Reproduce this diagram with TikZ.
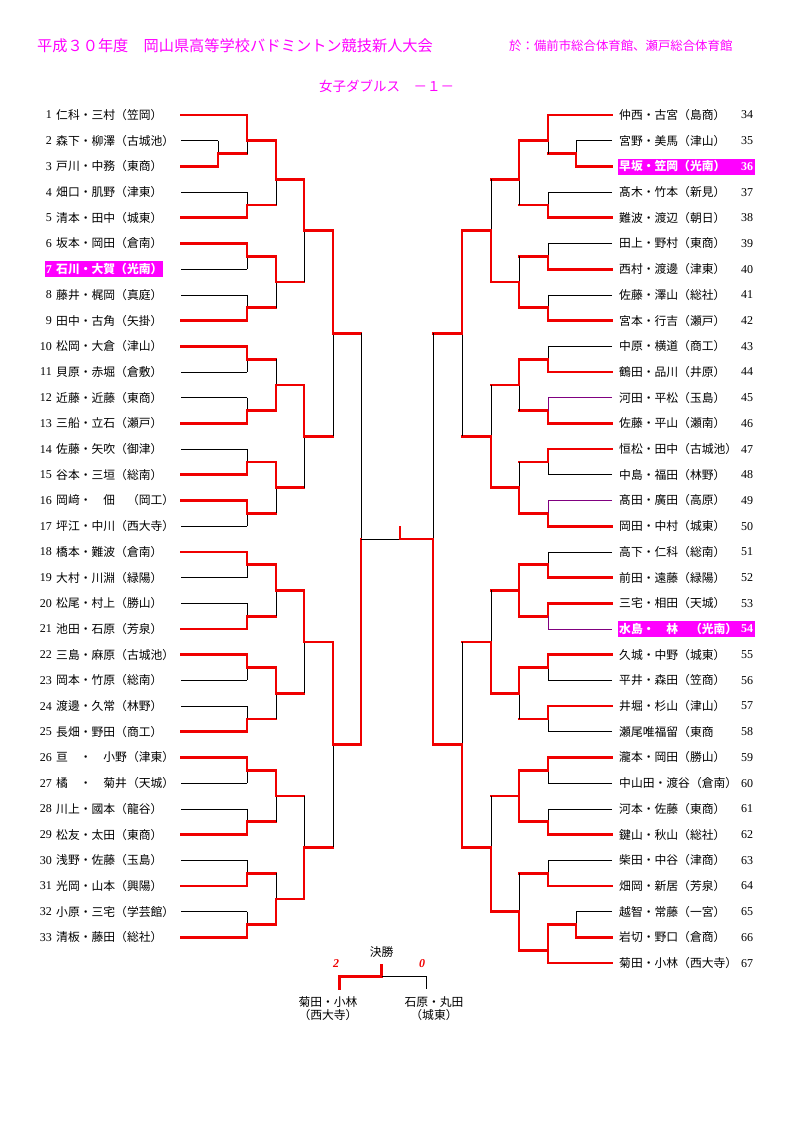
\documentclass[tikz,border=0pt]{standalone}
\usepackage{fontspec}
\setmainfont{Noto Sans CJK JP}
\newfontfamily\numfont{Liberation Serif}
\definecolor{hdmag}{RGB}{255,0,255}
\definecolor{winred}{RGB}{240,0,0}
\definecolor{viopurple}{RGB}{128,0,128}

\begin{document}
\begin{tikzpicture}[x=1pt,y=-25.7pt,
    win/.style={draw=winred,line width=2.7pt,line cap=rect},
    lose/.style={draw=black,line width=0.75pt},
    via/.style={draw=viopurple,line width=0.75pt},
    ent/.style={inner sep=0pt,anchor=west,font=\fontsize{11.8}{13}\selectfont},
    enthl/.style={ent,text=white,font=\fontsize{11.8}{13}\selectfont\bfseries},
    entno/.style={inner sep=0pt,font=\numfont\fontsize{12}{13}\selectfont},
    enthlno/.style={entno,text=white,font=\numfont\fontsize{12}{13}\selectfont\bfseries},
    hdr/.style={inner sep=0pt,text=hdmag}]
\useasboundingbox (0,-4.4747) rectangle (794,39.2218);

% titles
\node[hdr,anchor=west,font=\fontsize{15.2}{17}\selectfont] (title) at (37,-2.685) {平成３０年度　岡山県高等学校バドミントン競技新人大会};
\node[hdr,anchor=west,font=\fontsize{12.4}{14}\selectfont] (venue) at (509,-2.685) {於：備前市総合体育館、瀬戸総合体育館};
\node[hdr,font=\fontsize{13.5}{15}\selectfont] (event) at (386.5,-1.128) {女子ダブルス　－１－};

% highlighted entries
\fill[hdmag] (45,5.7) rectangle (163,6.32);
\fill[hdmag] (618,1.71) rectangle (755,2.33);
\fill[hdmag] (618,19.69) rectangle (755,20.31);

% left entries
\foreach \n/\t/\s/\e/\f [count=\i from 0] in {
    1/仁科・三村（笠岡）/win/247/ent, 2/森下・柳澤（古城池）/lose/218/ent,
    3/戸川・中務（東商）/win/218/ent, 4/畑口・肌野（津東）/lose/247/ent,
    5/清本・田中（城東）/win/247/ent, 6/坂本・岡田（倉南）/win/247/ent,
    7/石川・大賀（光南）/lose/247/enthl, 8/藤井・梶岡（真庭）/lose/247/ent,
    9/田中・古角（矢掛）/win/247/ent, 10/松岡・大倉（津山）/win/247/ent,
    11/貝原・赤堀（倉敷）/lose/247/ent, 12/近藤・近藤（東商）/lose/247/ent,
    13/三船・立石（瀬戸）/win/247/ent, 14/佐藤・矢吹（御津）/lose/247/ent,
    15/谷本・三垣（総南）/win/247/ent, 16/岡﨑・　佃　（岡工）/win/247/ent,
    17/坪江・中川（西大寺）/lose/247/ent, 18/橋本・難波（倉南）/win/247/ent,
    19/大村・川淵（緑陽）/lose/247/ent, 20/松尾・村上（勝山）/lose/247/ent,
    21/池田・石原（芳泉）/win/247/ent, 22/三島・麻原（古城池）/win/247/ent,
    23/岡本・竹原（総南）/lose/247/ent, 24/渡邊・久常（林野）/lose/247/ent,
    25/長畑・野田（商工）/win/247/ent, 26/亘　・　小野（津東）/win/247/ent,
    27/橘　・　菊井（天城）/lose/247/ent, 28/川上・國本（龍谷）/lose/247/ent,
    29/松友・太田（東商）/win/247/ent, 30/浅野・佐藤（玉島）/lose/247/ent,
    31/光岡・山本（興陽）/win/247/ent, 32/小原・三宅（学芸館）/lose/247/ent,
    33/清板・藤田（総社）/win/247/ent}{
  \node[\f no,anchor=east] (n\n) at (52,\i) {\n};
  \node[\f] (e\n) at (56,\i) {\t};
  \draw[\s] (181,\i) -- (\e,\i);
}

% right entries
\foreach \n/\t/\s/\e/\f [count=\i from 0] in {
    34/仲西・古宮（島商）/win/548/ent, 35/宮野・美馬（津山）/lose/576/ent,
    36/早坂・笠岡（光南）/win/576/enthl, 37/髙木・竹本（新見）/lose/548/ent,
    38/難波・渡辺（朝日）/win/548/ent, 39/田上・野村（東商）/lose/548/ent,
    40/西村・渡邊（津東）/win/548/ent, 41/佐藤・澤山（総社）/lose/548/ent,
    42/宮本・行吉（瀬戸）/win/548/ent, 43/中原・横道（商工）/lose/548/ent,
    44/鶴田・品川（井原）/win/548/ent, 45/河田・平松（玉島）/via/548/ent,
    46/佐藤・平山（瀬南）/win/548/ent, 47/恒松・田中（古城池）/win/548/ent,
    48/中島・福田（林野）/lose/548/ent, 49/髙田・廣田（高原）/via/548/ent,
    50/岡田・中村（城東）/win/548/ent, 51/高下・仁科（総南）/lose/548/ent,
    52/前田・遠藤（緑陽）/win/548/ent, 53/三宅・相田（天城）/win/548/ent,
    54/水島・　林　（光南）/via/548/enthl, 55/久城・中野（城東）/win/548/ent,
    56/平井・森田（笠商）/lose/548/ent, 57/井堀・杉山（津山）/win/548/ent,
    58/瀬尾唯福留（東商/lose/548/ent, 59/瀧本・岡田（勝山）/win/548/ent,
    60/中山田・渡谷（倉南）/lose/548/ent, 61/河本・佐藤（東商）/lose/548/ent,
    62/鍵山・秋山（総社）/win/548/ent, 63/柴田・中谷（津商）/lose/548/ent,
    64/畑岡・新居（芳泉）/win/548/ent, 65/越智・常藤（一宮）/lose/576/ent,
    66/岩切・野口（倉商）/win/576/ent, 67/菊田・小林（西大寺）/win/548/ent}{
  \node[\f] (e\n) at (619,\i) {\t};
  \node[\f no,anchor=west] (n\n) at (741,\i) {\n};
  \draw[\s] (612,\i) -- (\e,\i);
}

% left bracket: x / next x / top / bottom / out / winner
\foreach \x/\nx/\a/\b/\o/\w in {
    218/247/1/2/1.5/2,
    247/276/0/1.5/1/0, 247/276/3/4/3.5/4, 247/276/5/6/5.5/5, 247/276/7/8/7.5/8,
    247/276/9/10/9.5/9, 247/276/11/12/11.5/12, 247/276/13/14/13.5/14, 247/276/15/16/15.5/15,
    247/276/17/18/17.5/17, 247/276/19/20/19.5/20, 247/276/21/22/21.5/21, 247/276/23/24/23.5/24,
    247/276/25/26/25.5/25, 247/276/27/28/27.5/28, 247/276/29/30/29.5/30, 247/276/31/32/31.5/32,
    276/304/1/3.5/2.5/1, 276/304/5.5/7.5/6.5/5.5, 276/304/9.5/11.5/10.5/11.5, 276/304/13.5/15.5/14.5/13.5,
    276/304/17.5/19.5/18.5/17.5, 276/304/21.5/23.5/22.5/21.5, 276/304/25.5/27.5/26.5/25.5, 276/304/29.5/31.5/30.5/31.5,
    304/333/2.5/6.5/4.5/2.5, 304/333/10.5/14.5/12.5/10.5, 304/333/18.5/22.5/20.5/18.5, 304/333/26.5/30.5/28.5/30.5,
    333/361/4.5/12.5/8.5/4.5, 333/361/20.5/28.5/24.5/20.5}{
  \draw[lose] (\x,\a) -- (\x,\b);
  \draw[win] (\x,\w) -- (\x,\o) -- (\nx,\o);
}

% right bracket
\foreach \x/\nx/\a/\b/\o/\w in {
    576/548/1/2/1.5/2, 576/548/31/32/31.5/32,
    548/519/0/1.5/1/0, 548/519/3/4/3.5/4, 548/519/5/6/5.5/6, 548/519/7/8/7.5/8,
    548/519/9/10/9.5/10, 548/519/11/12/11.5/12, 548/519/13/14/13.5/13, 548/519/15/16/15.5/16,
    548/519/17/18/17.5/18, 548/519/19/20/19.5/19, 548/519/21/22/21.5/21, 548/519/23/24/23.5/23,
    548/519/25/26/25.5/25, 548/519/27/28/27.5/28, 548/519/29/30/29.5/30, 548/519/31.5/33/32.5/33,
    519/491/1/3.5/2.5/1, 519/491/5.5/7.5/6.5/7.5, 519/491/9.5/11.5/10.5/9.5, 519/491/13.5/15.5/14.5/15.5,
    519/491/17.5/19.5/18.5/17.5, 519/491/21.5/23.5/22.5/21.5, 519/491/25.5/27.5/26.5/25.5, 519/491/29.5/32.5/31/32.5,
    491/462/2.5/6.5/4.5/6.5, 491/462/10.5/14.5/12.5/14.5, 491/462/18.5/22.5/20.5/22.5, 491/462/26.5/31/28.5/31,
    462/433/4.5/12.5/8.5/4.5, 462/433/20.5/28.5/24.5/28.5}{
  \draw[lose] (\x,\a) -- (\x,\b);
  \draw[win] (\x,\w) -- (\x,\o) -- (\nx,\o);
}
% verticals marked red on both sides
\foreach \x/\a/\b in {519/17.5/19.5, 519/25.5/27.5, 548/31.5/33}
  \draw[win] (\x,\a) -- (\x,\b);
% thin purple halves
\foreach \a/\b in {11/11.5, 15/15.5, 20/19.5}
  \draw[via] (548,\a) -- (548,\b);

% semi finals and the final
\coordinate (semil) at (361,16.5);
\coordinate (semir) at (433,16.5);
\coordinate (top) at (400,16.5);
\draw[lose] (361,8.5) -- (361,24.5);
\draw[win] (361,24.5) -- (semil);
\draw[lose] (semil) -- (top);
\draw[lose] (433,8.5) -- (433,24.5);
\draw[win] (433,24.5) -- (semir) -- (top) -- (400,16.05);

% final result
\node[inner sep=0pt,font=\fontsize{11.8}{13}\selectfont] (fin) at (381.7,32.56) {決勝};
\node[inner sep=0pt,text=winred,font=\numfont\fontsize{12}{13}\selectfont\bfseries\itshape] (sc1) at (336,33.0) {2};
\node[inner sep=0pt,text=winred,font=\numfont\fontsize{12}{13}\selectfont\bfseries\itshape] (sc2) at (422,33.0) {0};
\node[inner sep=0pt,font=\fontsize{11.8}{13}\selectfont] (fw) at (328,34.5) {菊田・小林};
\node[inner sep=0pt,font=\fontsize{11.8}{13}\selectfont] (fws) at (328,35.02) {（西大寺）};
\node[inner sep=0pt,font=\fontsize{11.8}{13}\selectfont] (fl) at (434,34.5) {石原・丸田};
\node[inner sep=0pt,font=\fontsize{11.8}{13}\selectfont] (fls) at (434,35.02) {（城東）};
\coordinate (fa) at (339.3,34.0);
\coordinate (fb) at (426.7,34.0);
\coordinate (fc) at (381.7,33.53);
\draw[win] (fa) |- (fc) -- (381.7,33.07);
\draw[lose] (fc) -| (fb);
\end{tikzpicture}
\end{document}
